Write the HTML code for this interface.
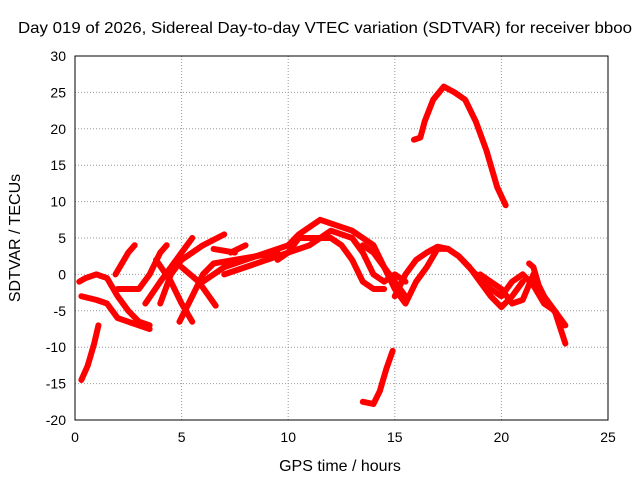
<!DOCTYPE html>
<html><head><meta charset="utf-8"><style>
body{margin:0;background:#fff}
svg{display:block;font-family:"Liberation Sans",sans-serif}
</style></head><body>
<svg id="chart" width="640" height="480">
<rect x="0" y="0" width="640" height="480" fill="#fff"/>
<text x="18" y="33" font-size="16" textLength="614" lengthAdjust="spacingAndGlyphs">Day 019 of 2026, Sidereal Day-to-day VTEC variation (SDTVAR) for receiver bboo</text>
<text x="340" y="471" font-size="16" text-anchor="middle">GPS time / hours</text>
<text transform="translate(20,238) rotate(-90)" font-size="16" text-anchor="middle">SDTVAR / TECUs</text>
<g id="grid"></g><g id="series"></g>
<rect x="75" y="56" width="533" height="364" fill="none" stroke="#000" stroke-width="1"/>
</svg>
<script>
const xTicks=[0,5,10,15,20,25];
const yTicks=[-20,-15,-10,-5,0,5,10,15,20,25,30];
const track1=[[0.3,-14.5],[0.6,-12.5],[0.9,-9.5],[1.1,-7]];
const track2=[[13.5,-17.5],[14,-17.8],[14.3,-16],[14.6,-13],[14.9,-10.5]];
const track3=[[15.9,18.5],[16.2,18.8],[16.4,21],[16.8,24],[17.3,25.8],[17.8,25],[18.3,24],[18.8,21],[19.3,17],[19.8,12],[20.2,9.5]];
const track4=[[0.2,-1],[0.5,-0.5],[1,0],[1.5,-0.5],[2,-3],[2.5,-5],[3,-6.5],[3.5,-7]];
const track5=[[0.3,-3],[1,-3.5],[1.5,-4],[2,-6],[3,-7],[3.5,-7.5]];
const track6=[[1.9,0],[2.5,3],[2.8,4]];
const track7=[[2,-2],[3,-2],[3.5,0],[4,3],[4.3,4]];
const track8=[[3.3,-4],[4,-1],[4.5,1],[5,3],[5.5,5]];
const track9=[[4,-4],[4.5,0],[5,2],[6,4],[7,5.5]];
const track10=[[4.9,-6.5],[5.5,-3],[6,0],[6.5,1.5],[7.5,2],[8.5,2.5],[9.5,3]];
const track11=[[3.8,2],[4.5,-1],[5,-4],[5.5,-6.5]];
const track12=[[5,1],[5.8,-1],[6.6,-4.3]];
const track13=[[6,-1],[7,1],[8,2],[9,3],[10,4],[10.5,5.5],[11,6.5],[11.5,7.5],[12,7],[13,6],[14,4],[14.5,1],[15,-1],[15.5,-3]];
const track14=[[7,0],[8,1],[9,2],[10,3],[10.5,5],[11,5],[12,5],[12.5,4],[13,2],[13.5,-1],[14,-2],[14.5,-2]];
const track15=[[9.5,2],[10,3],[11,4],[12,6],[13,5],[13.5,3],[14,0],[14.5,-1],[15,0],[15.5,-1]];
const track16=[[13.5,4],[14,3],[14.5,1],[15,-2],[15.5,-4],[16,-1],[16.5,1],[17,3.5],[17.5,3.5],[18,2.5],[18.5,1],[19,-1],[19.5,-3],[20,-4.5],[20.5,-3],[21,-1]];
const track17=[[15,-3],[15.5,0],[16,2],[16.5,3],[17,3.8],[17.5,3.5],[18,2.5],[18.8,0],[19.5,-2],[20,-3],[20.5,-1],[21,0],[21.5,-1.5],[22,-4],[22.5,-5],[23,-7]];
const track18=[[19,0],[19.5,-1],[20,-2],[20.5,-4],[21,-3.5],[21.5,0],[22,-3],[22.5,-5],[23,-9.5]];
const track19=[[21.3,1.5],[21.5,1],[21.8,-2],[22.2,-4],[22.6,-5.5],[22.9,-7]];
const track20=[[7.3,3],[8,4]];
const track21=[[6.5,3.5],[7.5,3]];
const tracks=[track1,track2,track3,track4,track5,track6,track7,track8,track9,track10,track11,track12,track13,track14,track15,track16,track17,track18,track19,track20,track21];
const X0=75,X1=608,Y0=420,Y1=56;
function sx(v){return X0+(v-0)/(25-0)*(X1-X0);}
function sy(v){return Y0-(v+20)/(30+20)*(Y0-Y1);}
const NS="http://www.w3.org/2000/svg";
const grid=document.getElementById('grid');
xTicks.forEach(t=>{
 const x=sx(t);
 if(t>0&&t<25){const l=document.createElementNS(NS,'line');
 l.setAttribute('x1',x);l.setAttribute('x2',x);l.setAttribute('y1',Y1);l.setAttribute('y2',Y0);
 l.setAttribute('stroke','#999');l.setAttribute('stroke-dasharray','1,2');
 
 
 grid.appendChild(l);}
 const tk=document.createElementNS(NS,'text');
 tk.setAttribute('x',x);tk.setAttribute('y',Y0+22);tk.setAttribute('font-size','14');tk.setAttribute('text-anchor','middle');
 tk.textContent=t;
 
 
 grid.appendChild(tk);
});
yTicks.forEach(t=>{
 const y=sy(t);
 if(t>-20&&t<30){const l=document.createElementNS(NS,'line');
 l.setAttribute('x1',X0);l.setAttribute('x2',X1);l.setAttribute('y1',y);l.setAttribute('y2',y);
 l.setAttribute('stroke','#999');l.setAttribute('stroke-dasharray','1,2');
 
 
 grid.appendChild(l);}
 const tk=document.createElementNS(NS,'text');
 tk.setAttribute('x',X0-9);tk.setAttribute('y',y+5);tk.setAttribute('font-size','14');tk.setAttribute('text-anchor','end');
 tk.textContent=t;
 
 
 grid.appendChild(tk);
});
const sg=document.getElementById('series');
tracks.forEach(tr=>{
 const p=document.createElementNS(NS,'polyline');
 p.setAttribute('points',tr.map(d=>sx(d[0])+','+sy(d[1])).join(' '));
 p.setAttribute('fill','none');p.setAttribute('stroke','#f00');p.setAttribute('stroke-width','6');
 p.setAttribute('stroke-linejoin','round');p.setAttribute('stroke-linecap','round');
 
 
 sg.appendChild(p);
});
</script>
</body></html>
